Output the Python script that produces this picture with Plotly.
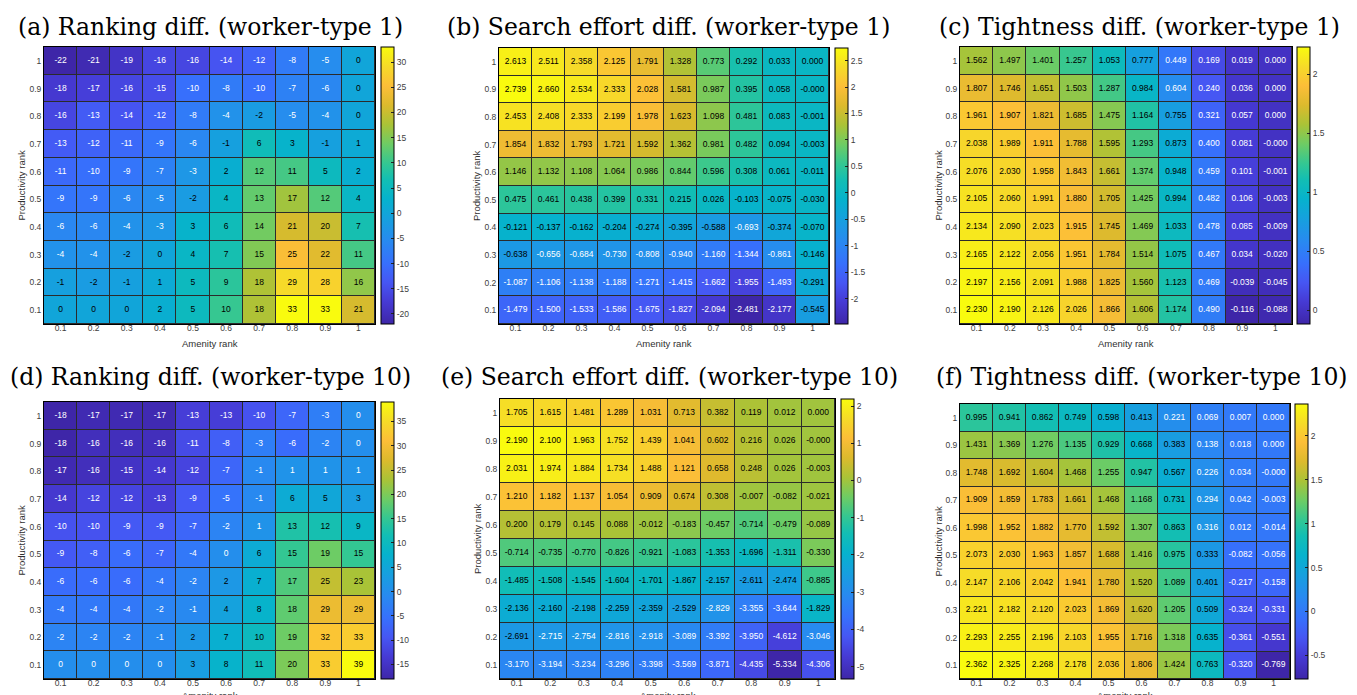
import plotly.graph_objects as go

# ---------------- data ----------------
amenity_rank = [0.1, 0.2, 0.3, 0.4, 0.5, 0.6, 0.7, 0.8, 0.9, 1.0]
productivity_rank = [1.0, 0.9, 0.8, 0.7, 0.6, 0.5, 0.4, 0.3, 0.2, 0.1]  # row order (top -> bottom)
tick_labels = ["0.1", "0.2", "0.3", "0.4", "0.5", "0.6", "0.7", "0.8", "0.9", "1"]

ranking_diff_w1 = [
    [-22, -21, -19, -16, -16, -14, -12, -8, -5, 0],
    [-18, -17, -16, -15, -10, -8, -10, -7, -6, 0],
    [-16, -13, -14, -12, -8, -4, -2, -5, -4, 0],
    [-13, -12, -11, -9, -6, -1, 6, 3, -1, 1],
    [-11, -10, -9, -7, -3, 2, 12, 11, 5, 2],
    [-9, -9, -6, -5, -2, 4, 13, 17, 12, 4],
    [-6, -6, -4, -3, 3, 6, 14, 21, 20, 7],
    [-4, -4, -2, 0, 4, 7, 15, 25, 22, 11],
    [-1, -2, -1, 1, 5, 9, 18, 29, 28, 16],
    [0, 0, 0, 2, 5, 10, 18, 33, 33, 21],
]

search_diff_w1 = [
    [2.613, 2.511, 2.358, 2.125, 1.791, 1.328, 0.773, 0.292, 0.033, 0.000],
    [2.739, 2.660, 2.534, 2.333, 2.028, 1.581, 0.987, 0.395, 0.058, -0.0],
    [2.453, 2.408, 2.333, 2.199, 1.978, 1.623, 1.098, 0.481, 0.083, -0.001],
    [1.854, 1.832, 1.793, 1.721, 1.592, 1.362, 0.981, 0.482, 0.094, -0.003],
    [1.146, 1.132, 1.108, 1.064, 0.986, 0.844, 0.596, 0.308, 0.061, -0.011],
    [0.475, 0.461, 0.438, 0.399, 0.331, 0.215, 0.026, -0.103, -0.075, -0.030],
    [-0.121, -0.137, -0.162, -0.204, -0.274, -0.395, -0.588, -0.693, -0.374, -0.070],
    [-0.638, -0.656, -0.684, -0.730, -0.808, -0.940, -1.160, -1.344, -0.861, -0.146],
    [-1.087, -1.106, -1.138, -1.188, -1.271, -1.415, -1.662, -1.955, -1.493, -0.291],
    [-1.479, -1.500, -1.533, -1.586, -1.675, -1.827, -2.094, -2.481, -2.177, -0.545],
]

tightness_diff_w1 = [
    [1.562, 1.497, 1.401, 1.257, 1.053, 0.777, 0.449, 0.169, 0.019, 0.000],
    [1.807, 1.746, 1.651, 1.503, 1.287, 0.984, 0.604, 0.240, 0.036, 0.000],
    [1.961, 1.907, 1.821, 1.685, 1.475, 1.164, 0.755, 0.321, 0.057, 0.000],
    [2.038, 1.989, 1.911, 1.788, 1.595, 1.293, 0.873, 0.400, 0.081, -0.0],
    [2.076, 2.030, 1.958, 1.843, 1.661, 1.374, 0.948, 0.459, 0.101, -0.001],
    [2.105, 2.060, 1.991, 1.880, 1.705, 1.425, 0.994, 0.482, 0.106, -0.003],
    [2.134, 2.090, 2.023, 1.915, 1.745, 1.469, 1.033, 0.478, 0.085, -0.009],
    [2.165, 2.122, 2.056, 1.951, 1.784, 1.514, 1.075, 0.467, 0.034, -0.020],
    [2.197, 2.156, 2.091, 1.988, 1.825, 1.560, 1.123, 0.469, -0.039, -0.045],
    [2.230, 2.190, 2.126, 2.026, 1.866, 1.606, 1.174, 0.490, -0.116, -0.088],
]

ranking_diff_w10 = [
    [-18, -17, -17, -17, -13, -13, -10, -7, -3, 0],
    [-18, -16, -16, -16, -11, -8, -3, -6, -2, 0],
    [-17, -16, -15, -14, -12, -7, -1, 1, 1, 1],
    [-14, -12, -12, -13, -9, -5, -1, 6, 5, 3],
    [-10, -10, -9, -9, -7, -2, 1, 13, 12, 9],
    [-9, -8, -6, -7, -4, 0, 6, 15, 19, 15],
    [-6, -6, -6, -4, -2, 2, 7, 17, 25, 23],
    [-4, -4, -4, -2, -1, 4, 8, 18, 29, 29],
    [-2, -2, -2, -1, 2, 7, 10, 19, 32, 33],
    [0, 0, 0, 0, 3, 8, 11, 20, 33, 39],
]

search_diff_w10 = [
    [1.705, 1.615, 1.481, 1.289, 1.031, 0.713, 0.382, 0.119, 0.012, 0.000],
    [2.190, 2.100, 1.963, 1.752, 1.439, 1.041, 0.602, 0.216, 0.026, -0.0],
    [2.031, 1.974, 1.884, 1.734, 1.488, 1.121, 0.658, 0.248, 0.026, -0.003],
    [1.210, 1.182, 1.137, 1.054, 0.909, 0.674, 0.308, -0.007, -0.082, -0.021],
    [0.200, 0.179, 0.145, 0.088, -0.012, -0.183, -0.457, -0.714, -0.479, -0.089],
    [-0.714, -0.735, -0.770, -0.826, -0.921, -1.083, -1.353, -1.696, -1.311, -0.330],
    [-1.485, -1.508, -1.545, -1.604, -1.701, -1.867, -2.157, -2.611, -2.474, -0.885],
    [-2.136, -2.160, -2.198, -2.259, -2.359, -2.529, -2.829, -3.355, -3.644, -1.829],
    [-2.691, -2.715, -2.754, -2.816, -2.918, -3.089, -3.392, -3.950, -4.612, -3.046],
    [-3.170, -3.194, -3.234, -3.296, -3.398, -3.569, -3.871, -4.435, -5.334, -4.306],
]

tightness_diff_w10 = [
    [0.995, 0.941, 0.862, 0.749, 0.598, 0.413, 0.221, 0.069, 0.007, 0.000],
    [1.431, 1.369, 1.276, 1.135, 0.929, 0.668, 0.383, 0.138, 0.018, 0.000],
    [1.748, 1.692, 1.604, 1.468, 1.255, 0.947, 0.567, 0.226, 0.034, -0.0],
    [1.909, 1.859, 1.783, 1.661, 1.468, 1.168, 0.731, 0.294, 0.042, -0.003],
    [1.998, 1.952, 1.882, 1.770, 1.592, 1.307, 0.863, 0.316, 0.012, -0.014],
    [2.073, 2.030, 1.963, 1.857, 1.688, 1.416, 0.975, 0.333, -0.082, -0.056],
    [2.147, 2.106, 2.042, 1.941, 1.780, 1.520, 1.089, 0.401, -0.217, -0.158],
    [2.221, 2.182, 2.120, 2.023, 1.869, 1.620, 1.205, 0.509, -0.324, -0.331],
    [2.293, 2.255, 2.196, 2.103, 1.955, 1.716, 1.318, 0.635, -0.361, -0.551],
    [2.362, 2.325, 2.268, 2.178, 2.036, 1.806, 1.424, 0.763, -0.320, -0.769],
]

titles = [
    "(a) Ranking diff. (worker-type 1)",
    "(b) Search effort diff. (worker-type 1)",
    "(c) Tightness diff. (worker-type 1)",
    "(d) Ranking diff. (worker-type 10)",
    "(e) Search effort diff. (worker-type 10)",
    "(f) Tightness diff. (worker-type 10)",
]
x_title = "Amenity rank"
y_title = "Productivity rank"
matrices = [ranking_diff_w1, search_diff_w1, tightness_diff_w1,
            ranking_diff_w10, search_diff_w10, tightness_diff_w10]
is_integer = [True, False, False, True, False, False]
cbar_dticks = [5, 0.5, 0.5, 5, 1, 0.5]

# ---------------- style / layout ----------------
W, H = 1357, 695
# heatmap (left, right, top, bottom) px, colorbar left px, title centre (x, y),
# x-title centre y px, y-title centre x px
boxes = [
    (36, 367, 39, 316, 373, 202, 19, 336, 13),
    (491, 821, 40, 316, 827, 660, 19, 336, 469),
    (952, 1284, 39, 316, 1289, 1131, 19, 336, 930),
    (36, 367, 394, 671, 373, 202, 369, 688, 13),
    (492, 827, 391, 671, 833, 661, 369, 688, 469),
    (952, 1282, 396, 671, 1287, 1134, 369, 688, 930),
]

parula = [
    [0.00, "rgb(62,38,168)"],
    [0.08, "rgb(70,58,212)"],
    [0.15, "rgb(70,86,243)"],
    [0.22, "rgb(55,112,252)"],
    [0.30, "rgb(40,138,240)"],
    [0.38, "rgb(22,160,222)"],
    [0.45, "rgb(6,178,205)"],
    [0.52, "rgb(18,190,180)"],
    [0.58, "rgb(52,199,146)"],
    [0.65, "rgb(110,204,100)"],
    [0.72, "rgb(170,195,55)"],
    [0.79, "rgb(220,186,45)"],
    [0.86, "rgb(252,190,56)"],
    [0.93, "rgb(246,219,40)"],
    [1.00, "rgb(249,251,14)"],
]

sans = "Liberation Sans, Arial, sans-serif"
tick_font = dict(family=sans, size=8.5, color="#404040")
label_font = dict(family=sans, size=9.5, color="#303030")


def colorbar_ticks(lo, hi, step):
    k = int(lo // step)
    vals, texts = [], []
    while k * step <= hi + 1e-9:
        v = round(k * step, 6)
        if v >= lo - 1e-9:
            vals.append(v)
            texts.append(f"{v:g}")
        k += 1
    return vals, texts


fig = go.Figure()
annotations = []
for i, (z_rows, title, isint, dt, box) in enumerate(
        zip(matrices, titles, is_integer, cbar_dticks, boxes)):
    left, right, top, bottom, cbl, tcx, tcy, xty, ytx = box
    ax = "" if i == 0 else str(i + 1)
    flat = [v for row in z_rows for v in row]
    zmin, zmax = min(flat), max(flat)
    tv, tt = colorbar_ticks(zmin, zmax, dt)

    fig.add_trace(go.Heatmap(
        x=amenity_rank, y=productivity_rank, z=z_rows,
        zmin=zmin, zmax=zmax, colorscale=parula, xgap=1, ygap=1,
        xaxis="x" + ax, yaxis="y" + ax, hoverinfo="skip",
        colorbar=dict(
            x=cbl / W, xanchor="left", xpad=0, ypad=0,
            y=1 - (top + bottom) / 2 / H, yanchor="middle",
            len=bottom - top, lenmode="pixels", thickness=13,
            outlinewidth=1, outlinecolor="black",
            ticks="inside", ticklen=3, tickcolor="#222", tickwidth=1,
            tickvals=tv, ticktext=tt, tickfont=tick_font,
        ),
    ))

    xs, ys, texts, colors = [], [], [], []
    for r, yv in enumerate(productivity_rank):
        for c, xv in enumerate(amenity_rank):
            v = z_rows[r][c]
            xs.append(xv)
            ys.append(yv)
            texts.append(f"{v:d}" if isint else f"{v:.3f}")
            t = (v - zmin) / (zmax - zmin)
            colors.append("white" if t < 0.35 else "black")
    fig.add_trace(go.Scatter(
        x=xs, y=ys, text=texts, mode="text", hoverinfo="skip",
        textfont=dict(family=sans, size=8.5, color=colors),
        xaxis="x" + ax, yaxis="y" + ax, showlegend=False,
    ))

    axis_common = dict(showline=True, linecolor="black", linewidth=1, mirror=True,
                       showgrid=False, zeroline=False, ticks="", tickfont=tick_font,
                       tickvals=amenity_rank, ticktext=tick_labels, range=[0.05, 1.05])
    fig.update_layout({
        "xaxis" + ax: dict(axis_common, domain=[left / W, right / W],
                           anchor="y" + ax, ticklabelstandoff=-4),
        "yaxis" + ax: dict(axis_common, domain=[1 - bottom / H, 1 - top / H],
                           anchor="x" + ax, ticklabelstandoff=0),
    })
    annotations.append(dict(
        text=title, x=tcx / W, y=1 - tcy / H, xref="paper", yref="paper",
        xanchor="center", yanchor="middle", showarrow=False,
        font=dict(family="DejaVu Serif, Liberation Serif, serif", size=23.5, color="black"),
    ))
    annotations.append(dict(
        text=x_title, x=(left + right) / 2 / W, y=max(1 - (xty + 7) / H, 0),
        xref="paper", yref="paper",
        xanchor="center", yanchor="bottom", showarrow=False, font=label_font,
    ))
    annotations.append(dict(
        text=y_title, x=ytx / W, y=1 - (top + bottom) / 2 / H, xref="paper", yref="paper",
        xanchor="center", yanchor="middle", showarrow=False, textangle=-90, font=label_font,
    ))

fig.update_layout(
    width=W, height=H, margin=dict(l=0, r=0, t=0, b=0),
    paper_bgcolor="white", plot_bgcolor="#2b2b2b",
    showlegend=False, annotations=annotations,
)

fig.write_html("out.html")
